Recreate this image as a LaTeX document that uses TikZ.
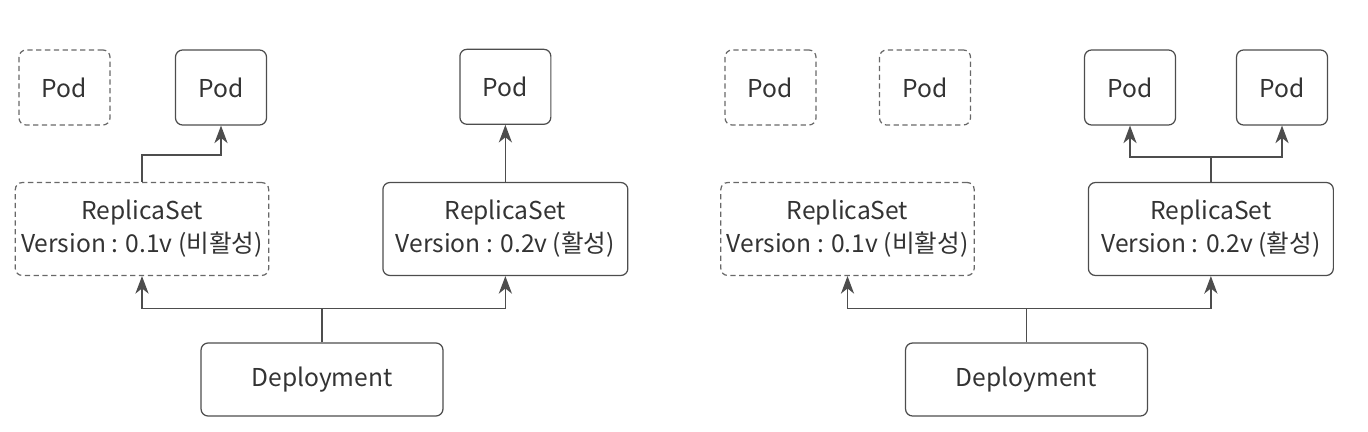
\documentclass[tikz,border=0pt]{standalone}
\usepackage{fontspec}
\setmainfont{Noto Sans CJK KR}
\usetikzlibrary{arrows.meta, positioning}
\definecolor{linegray}{HTML}{4D4D4D}
\definecolor{textgray}{HTML}{333333}

\begin{document}
\begin{tikzpicture}[
      x=0.02cm, y=-0.02cm,
      % Define compact styles
      pod/.style={rectangle, rounded corners=4pt, draw=linegray, line width=0.7pt, minimum width=1.82cm, minimum height=1.5cm, text=textgray, font=\fontsize{14}{17}\selectfont},
      oldpod/.style={pod, dashed, dash pattern=on 3pt off 2pt, draw=linegray!85},
      replica/.style={rectangle, rounded corners=4pt, draw=linegray, line width=0.7pt, minimum width=4.9cm, minimum height=1.86cm, align=center, text=textgray, font=\fontsize{14}{18.8}\selectfont},
      oldreplica/.style={replica, dashed, dash pattern=on 3pt off 2pt, draw=linegray!85},
      deploy/.style={rectangle, rounded corners=4pt, draw=linegray, line width=0.7pt, minimum width=4.84cm, minimum height=1.46cm, text=textgray, font=\fontsize{14}{17}\selectfont},
      arrow/.style={-{Stealth[length=10pt, width=7.5pt, inset=3pt]}, draw=linegray, line width=0.7pt}
    ]
    \useasboundingbox (0,0) rectangle (1368,432);

    % Left - rolling update in progress
    \node[oldreplica] (rsold) at (142,229) {ReplicaSet\\Version : 0.1v (비활성)};
    \node[replica, right=2.26cm of rsold] (rsnew) {ReplicaSet\\Version : 0.2v (활성)};
    \node[deploy] (deploy) at (322,379.5) {Deployment};
    \node[oldpod] (poda) at (64.5,87.5) {Pod};
    \node[pod] (podb) at (221,87.5) {Pod};
    \node[pod, above=1.14cm of rsnew] (podc) {Pod};

    % Right - rolling update done
    \node[oldreplica] (rsold2) at (847.5,229) {ReplicaSet\\Version : 0.1v (비활성)};
    \node[replica, right=2.26cm of rsold2] (rsnew2) {ReplicaSet\\Version : 0.2v (활성)};
    \node[deploy] (deploy2) at (1026.5,379.5) {Deployment};
    \node[oldpod] (podd) at (770.5,87.5) {Pod};
    \node[oldpod] (pode) at (925,87.5) {Pod};
    \node[pod] (podf) at (1130,87.5) {Pod};
    \node[pod] (podg) at (1282,87.5) {Pod};

    % Arrows
    \draw[arrow] (deploy.north) -- ++(0,-34) -| (rsold.south);
    \draw[arrow] (deploy.north) -- ++(0,-34) -| (rsnew.south);
    \draw[arrow] (rsold.north) -- ++(0,-27) -| (podb.south);
    \draw[arrow] (rsnew) -- (podc);

    \draw[arrow] (deploy2.north) -- ++(0,-34) -| (rsold2.south);
    \draw[arrow] (deploy2.north) -- ++(0,-34) -| (rsnew2.south);
    \draw[arrow] (rsnew2.north) -- ++(0,-25) -| (podf.south);
    \draw[arrow] (rsnew2.north) -- ++(0,-25) -| (podg.south);

  \end{tikzpicture}
\end{document}
